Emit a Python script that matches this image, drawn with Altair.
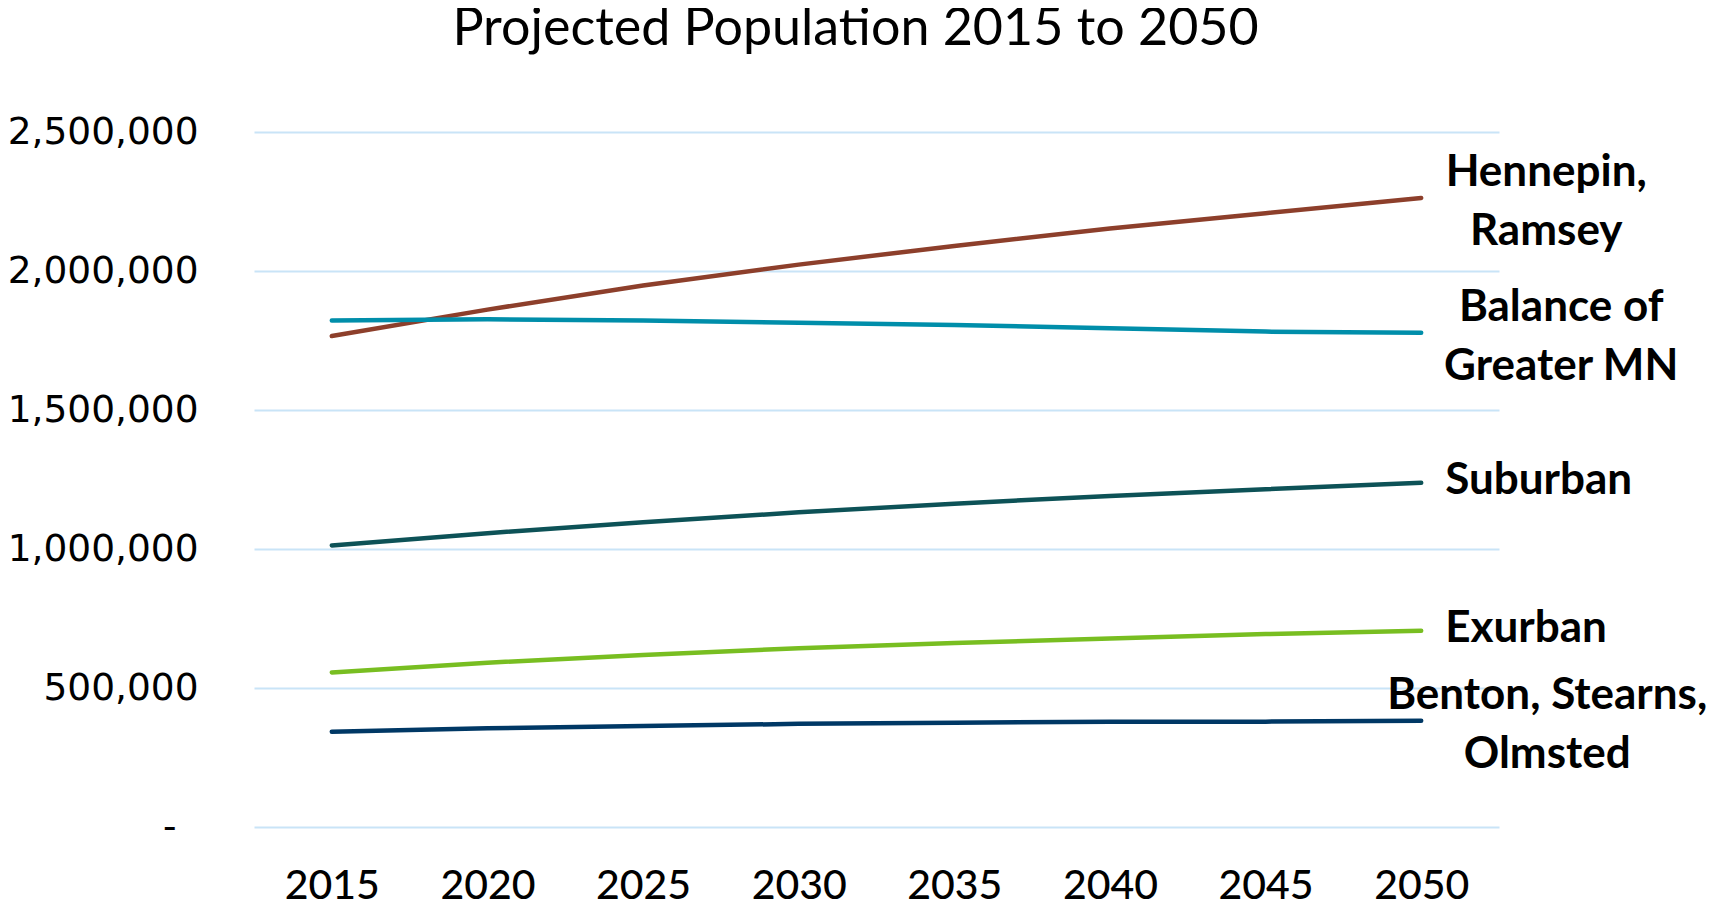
import altair as alt
import pandas as pd

years = ["2015", "2020", "2025", "2030", "2035", "2040", "2045", "2050"]
series_names = ["Hennepin, Ramsey", "Balance of Greater MN", "Suburban", "Exurban", "Benton, Stearns, Olmsted"]
hennepin = [1766000, 1861000, 1948000, 2023000, 2090000, 2153000, 2208000, 2263000]
balance = [1822000, 1826000, 1822000, 1814000, 1806000, 1794000, 1782000, 1778000]
suburban = [1013000, 1057000, 1096000, 1132000, 1163000, 1191000, 1215000, 1238000]
exurban = [556000, 591000, 619000, 643000, 662000, 678000, 694000, 706000]
benton = [343000, 355000, 363000, 371000, 375000, 379000, 379000, 382000]
label_texts = ["Hennepin,\nRamsey", "Balance of\nGreater MN", "Suburban", "Exurban", "Benton, Stearns,\nOlmsted"]
colors = ["#8D3F2B", "#008EAA", "#0D5257", "#78BE21", "#003865"]
y_ticks = [0, 500000, 1000000, 1500000, 2000000, 2500000]

values = [hennepin, balance, suburban, exurban, benton]
rows = []
for name, vals, lab in zip(series_names, values, label_texts):
    for yr, v in zip(years, vals):
        rows.append({"year": yr, "series": name, "pop": v, "label": lab})
df = pd.DataFrame(rows)

x_enc = alt.X("year:O", sort=years, title=None,
              scale=alt.Scale(type="point", padding=0.5),
              axis=alt.Axis(labelAngle=0, labelFont="Lato", labelFontSize=41,
                            labelColor="#000000", labelPadding=39, ticks=False,
                            domain=False, grid=False, labelFontWeight=500))
y_enc = alt.Y("pop:Q", title=None,
              scale=alt.Scale(domain=[0, 2500000], nice=False),
              axis=alt.Axis(values=y_ticks, labelFont="DejaVu Sans", labelFontSize=37.5,
                            labelColor="#000000", ticks=False, labelLimit=0,
                            labelPadding={"condition": {"test": "datum.value === 0", "value": 78}, "value": 56},
                            domain=False, gridColor="#C9E4F7", gridWidth=2,
                            labelExpr="datum.value === 0 ? '-' : format(datum.value, ',')"))
color_enc = alt.Color("series:N", scale=alt.Scale(domain=series_names, range=colors), legend=None)

base = alt.Chart(df)
lines = base.mark_line(strokeWidth=4.5, strokeCap="round").encode(
    x=x_enc, y=y_enc, color=color_enc, detail="series:N")

label_style = [("center", 125, -25), ("center", 140, -25), ("left", 24, -2),
               ("left", 24, -2), ("center", 126, -25)]
layers = [lines]
for name, (al, dx, dy) in zip(series_names, label_style):
    t = base.transform_filter(
        (alt.datum.series == name) & (alt.datum.year == "2050")
    ).mark_text(align=al, baseline="middle", dx=dx, dy=dy, font="Lato", fontWeight="bold",
                fontSize=44, lineBreak="\n", lineHeight=59, color="#000000").encode(
        x=alt.X("year:O", sort=years), y="pop:Q", text="label:N")
    layers.append(t)

chart = alt.layer(*layers).properties(
    width=1245, height=695,
    title=alt.TitleParams("Projected Population 2015 to 2050", font="Lato",
                          fontSize=52, fontWeight="normal", color="#000000",
                          anchor="middle", dx=-21, offset=57),
    autosize=alt.AutoSizeParams(type="none"),
    padding={"left": 246, "top": 124, "right": 208, "bottom": 80},
).configure_view(stroke=None)

chart.save("out.html", embed_options={"renderer": "svg", "actions": False})
